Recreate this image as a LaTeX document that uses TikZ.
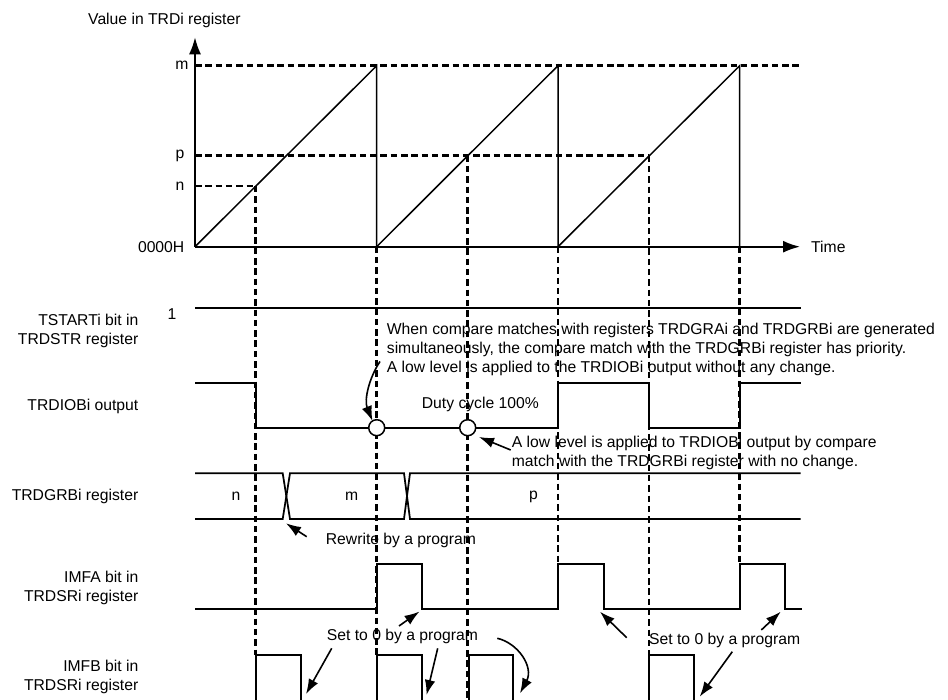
\documentclass[tikz,border=0pt]{standalone}
\usepackage{fontspec}
\setmainfont{Liberation Sans}
\usetikzlibrary{arrows.meta}
\begin{document}
\begin{tikzpicture}[x=1pt,y=-1pt,
  sig/.style={line width=1.75pt},
  ramp/.style={line width=1.5pt},
  dsh/.style={line width=2.7pt, dash pattern=on 6.5pt off 3.8pt},
  txt/.style={inner sep=0pt, font=\fontsize{15.7}{19}\selectfont},
  axisarrow/.style={line width=1.8pt,-{Latex[length=17pt,width=12pt]}},
  note/.style={line width=1.6pt,-{Latex[length=15pt,width=10.5pt]}},
  matchdot/.style={circle, draw, line width=1.5pt, fill=white, minimum size=16pt, inner sep=0pt}]
\useasboundingbox (0,0) rectangle (948,700);
\begin{scope}
\clip (0,0) rectangle (948,700);

% ---------- top graph ----------
\coordinate (O) at (195,246.7);
\coordinate (Ytop) at (195,37.3);
\coordinate (Xend) at (800,246.7);
% dashed levels
\draw[dsh] (195,65.7) -- (801.7,65.7);
\draw[dsh] (195,155.7) -- (649,155.7);
\draw[dsh] (195,186) -- (255.7,186);
% dashed verticals
\draw[dsh] (255.7,186) -- (255.7,655);
\draw[dsh] (376.7,246.7) -- (376.7,655);
\draw[dsh] (467.7,155.7) -- (467.7,700);
\draw[dsh] (558,246.7) -- (558,564.3);
\draw[dsh] (649,155.7) -- (649,655);
\draw[dsh] (739.7,246.7) -- (739.7,564.3);
% ramps
\draw[ramp] (195,246.7) -- (376.7,65.7) -- (376.7,246.7);
\draw[ramp] (376.7,246.7) -- (558,65.7) -- (558,246.7);
\draw[ramp] (558,246.7) -- (739.7,65.7) -- (739.7,246.7);
% axes
\draw[axisarrow] (O) -- (Ytop);
\draw[axisarrow] (O) -- (Xend);
\node[txt, anchor=west] (ylab) at (88,20) {Value in TRDi register};
\node[txt, anchor=west] (tlab) at (811,246.7) {Time};
\node[txt] (lm) at (182,65.7) {m};
\node[txt] (lp) at (180,155.7) {p};
\node[txt] (ln) at (180,186) {n};
\node[txt, anchor=east] (l0) at (184.5,246.7) {0000H};

% ---------- TSTARTi ----------
\draw[sig] (195,307.7) -- (800.7,307.7);
\node[txt] (one) at (172,314) {1};
\node[txt, anchor=east, align=right] (lts) at (138.5,331) {TSTARTi bit in\\TRDSTR register};

% ---------- TRDIOBi output ----------
\draw[sig] (195,382.7) -- (255.7,382.7) -- (255.7,427.7) -- (558,427.7) -- (558,382.7)
  -- (649,382.7) -- (649,427.7) -- (739.7,427.7) -- (739.7,382.7) -- (800.7,382.7);
\node[txt, anchor=east] (lio) at (138.5,406) {TRDIOBi output};

% ---------- TRDGRBi register ----------
\draw[sig] (195,473.3) -- (282.7,473.3) -- (290,519) -- (404,519) -- (410,473.3) -- (800.7,473.3);
\draw[sig] (195,519) -- (282.7,519) -- (290,473.3) -- (404,473.3) -- (410,519) -- (800.7,519);
\node[txt] (bn) at (236,496.5) {n};
\node[txt] (bm) at (351.7,496.5) {m};
\node[txt] (bp) at (533.5,496.5) {p};
\node[txt, anchor=east] (lgr) at (138.5,496) {TRDGRBi register};

% ---------- IMFA ----------
\draw[sig] (195,609.3) -- (376.7,609.3) -- (376.7,564.3) -- (421.7,564.3) -- (421.7,609.3)
  -- (558,609.3) -- (558,564.3) -- (603.7,564.3) -- (603.7,609.3)
  -- (739.7,609.3) -- (739.7,564.3) -- (785.3,564.3) -- (785.3,609.3) -- (801.7,609.3);
\node[txt, anchor=east, align=right] (lia) at (138.5,587.5) {IMFA bit in\\TRDSRi register};

% ---------- IMFB ----------
\draw[sig] (255.7,710) -- (255.7,655) -- (301,655) -- (301,710);
\draw[sig] (376.7,710) -- (376.7,655) -- (422.3,655) -- (422.3,710);
\draw[sig] (468.7,710) -- (468.7,655) -- (512.7,655) -- (512.7,710);
\draw[sig] (649,710) -- (649,655) -- (694,655) -- (694,710);
\node[txt, anchor=east, align=right] (lib) at (138.5,677) {IMFB bit in\\TRDSRi register};

% ---------- circles ----------
\node[matchdot] (c1) at (376.7,427.7) {};
\node[matchdot] (c2) at (467.7,427.7) {};

% ---------- annotations ----------
\node[txt, anchor=west, align=left] (cmp) at (386.7,349.5)
  {When compare matches with registers TRDGRAi and TRDGRBi are generated\\
   simultaneously, the compare match with the TRDGRBi register has priority.\\
   A low level is applied to the TRDIOBi output without any change.};
\coordinate (a1s) at (380,361.5);
\coordinate (a1e) at (372.5,421);
\draw[note] (a1s) .. controls (369,378) and (364,400) .. (a1e);

\node[txt, anchor=west] (duty) at (421.7,404) {Duty cycle 100\%};

\node[txt, anchor=west, align=left] (low) at (511.7,452.5)
  {A low level is applied to TRDIOBi output by compare\\
   match with the TRDGRBi register with no change.};
\coordinate (a2s) at (510.7,450);
\coordinate (a2e) at (479,437);
\draw[note] (a2s) -- (a2e);

\node[txt, anchor=west] (rw) at (325.7,540) {Rewrite by a program};
\coordinate (a3s) at (306.7,536.7);
\coordinate (a3e) at (286,523.3);
\draw[note] (a3s) -- (a3e);

\node[txt, anchor=west] (set1) at (326.7,636.5) {Set to 0 by a program};
\coordinate (s1a) at (399,626);
\coordinate (s1ae) at (419.5,611.5);
\draw[note] (s1a) -- (s1ae);
\coordinate (s1b) at (331.7,648.3);
\coordinate (s1be) at (306,694);
\draw[note] (s1b) -- (s1be);
\coordinate (s1c) at (437.7,648.3);
\coordinate (s1ce) at (426.5,695);
\draw[note] (s1c) -- (s1ce);
\coordinate (s1d) at (497.3,638.3);
\coordinate (s1de) at (520,693.3);
\draw[note] (s1d) .. controls (518,643) and (534,667) .. (s1de);

\node[txt, anchor=west] (set2) at (649,640) {Set to 0 by a program};
\coordinate (s2a) at (626.7,637.7);
\coordinate (s2ae) at (600,611.7);
\draw[note] (s2a) -- (s2ae);
\coordinate (s2b) at (761.3,630);
\coordinate (s2be) at (780.7,611.7);
\draw[note] (s2b) -- (s2be);
\coordinate (s2c) at (732.3,651.7);
\coordinate (s2ce) at (699.7,696.7);
\draw[note] (s2c) -- (s2ce);
\end{scope}
\end{tikzpicture}
\end{document}
